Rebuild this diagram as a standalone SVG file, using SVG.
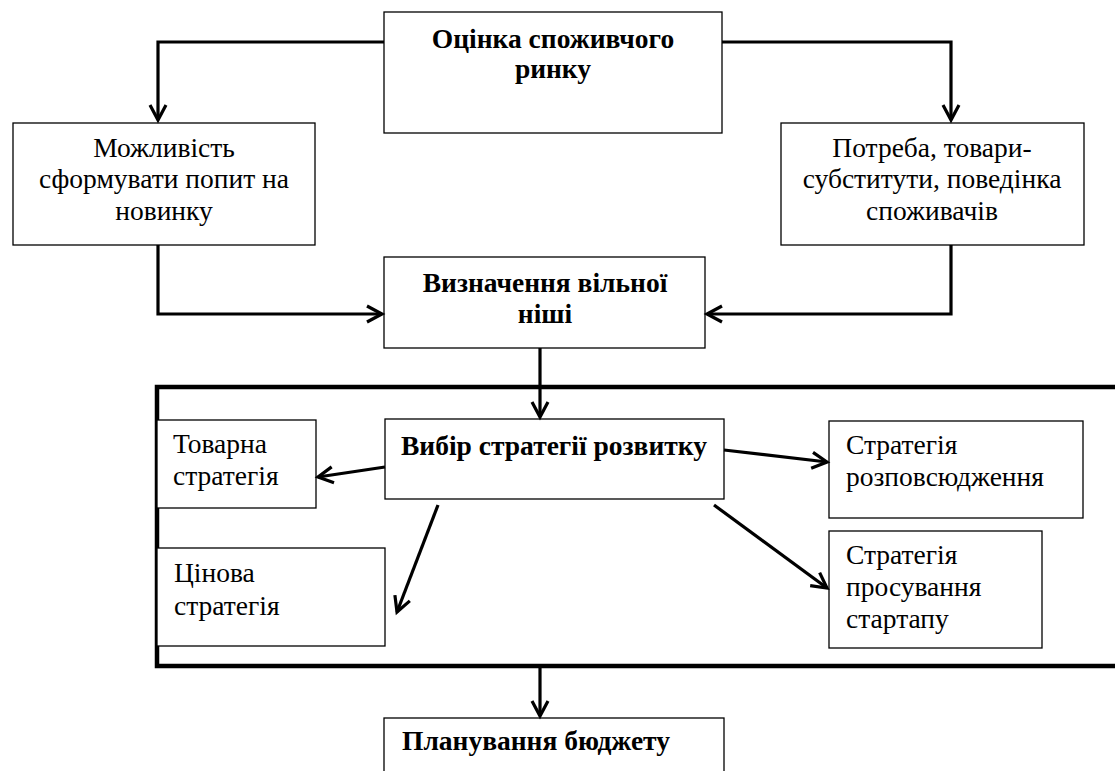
<svg xmlns="http://www.w3.org/2000/svg" width="1115" height="771" viewBox="0 0 1115 771">
<style>
.box{fill:#fff;stroke:#000;stroke-width:1.3}
.t{font-family:"Liberation Serif","Times New Roman",serif;font-size:27.5px;fill:#000}
.b{font-weight:bold}
.c{text-anchor:middle}
.con{fill:none;stroke:#000;stroke-width:3.2}
.frame{fill:none;stroke:#000;stroke-width:4.5}
</style>
<defs>
<marker id="ah" markerUnits="userSpaceOnUse" markerWidth="20" markerHeight="20" viewBox="-16 -10 20 20" refX="0" refY="0" orient="auto">
<path d="M-15,-8 L0,0 L-15,8" fill="none" stroke="#000" stroke-width="3.2"/>
</marker>
</defs>
<rect width="1115" height="771" fill="#fff"/>
<g id="frame"><path class="frame" d="M1115,387 H157 V666 H1115"/></g>
<g id="n1"><rect class="box" x="384" y="12" width="338" height="121"/>
<text class="t b c" x="553" y="48">Оцінка споживчого</text>
<text class="t b c" x="553" y="78">ринку</text></g>
<g id="n2"><rect class="box" x="13" y="123" width="302" height="122"/>
<text class="t c" x="164" y="157">Можливість</text>
<text class="t c" x="164" y="188">сформувати попит на</text>
<text class="t c" x="164" y="220">новинку</text></g>
<g id="n3"><rect class="box" x="781" y="123" width="303" height="122"/>
<text class="t c" x="932" y="157">Потреба, товари-</text>
<text class="t c" x="932" y="188">субститути, поведінка</text>
<text class="t c" x="932" y="220">споживачів</text></g>
<g id="n4"><rect class="box" x="384" y="257" width="321" height="91"/>
<text class="t b c" x="545" y="292">Визначення вільної</text>
<text class="t b c" x="545" y="323">ніші</text></g>
<g id="n5"><rect class="box" x="385" y="419" width="339" height="80"/>
<text class="t b" x="401" y="455">Вибір стратегії розвитку</text></g>
<g id="n6"><rect class="box" x="157" y="420" width="159" height="88"/>
<text class="t" x="173" y="453">Товарна</text>
<text class="t" x="173" y="485">стратегія</text></g>
<g id="n7"><rect class="box" x="157" y="548" width="228" height="98"/>
<text class="t" x="174" y="582">Цінова</text>
<text class="t" x="174" y="615">стратегія</text></g>
<g id="n8"><rect class="box" x="829" y="421" width="254" height="97"/>
<text class="t" x="846" y="454">Стратегія</text>
<text class="t" x="846" y="486">розповсюдження</text></g>
<g id="n9"><rect class="box" x="829" y="531" width="213" height="117"/>
<text class="t" x="846" y="564">Стратегія</text>
<text class="t" x="846" y="596">просування</text>
<text class="t" x="846" y="628">стартапу</text></g>
<g id="n10"><rect class="box" x="384" y="718" width="340" height="70"/>
<text class="t b" x="402" y="750">Планування бюджету</text></g>
<g id="connectors">
<path class="con" marker-end="url(#ah)" d="M384,42 H158 V120"/>
<path class="con" marker-end="url(#ah)" d="M722,42 H951 V120"/>
<path class="con" marker-end="url(#ah)" d="M158,245 V314 H382"/>
<path class="con" marker-end="url(#ah)" d="M951,245 V314 H707"/>
<path class="con" marker-end="url(#ah)" d="M540,348 V417"/>
<path class="con" marker-end="url(#ah)" d="M385,467 L318,477"/>
<path class="con" marker-end="url(#ah)" d="M724,450 L827,462"/>
<path class="con" marker-end="url(#ah)" d="M438,505 L397,612"/>
<path class="con" marker-end="url(#ah)" d="M714,505 L827,588"/>
<path class="con" marker-end="url(#ah)" d="M540,666 V716"/>
</g>
</svg>
